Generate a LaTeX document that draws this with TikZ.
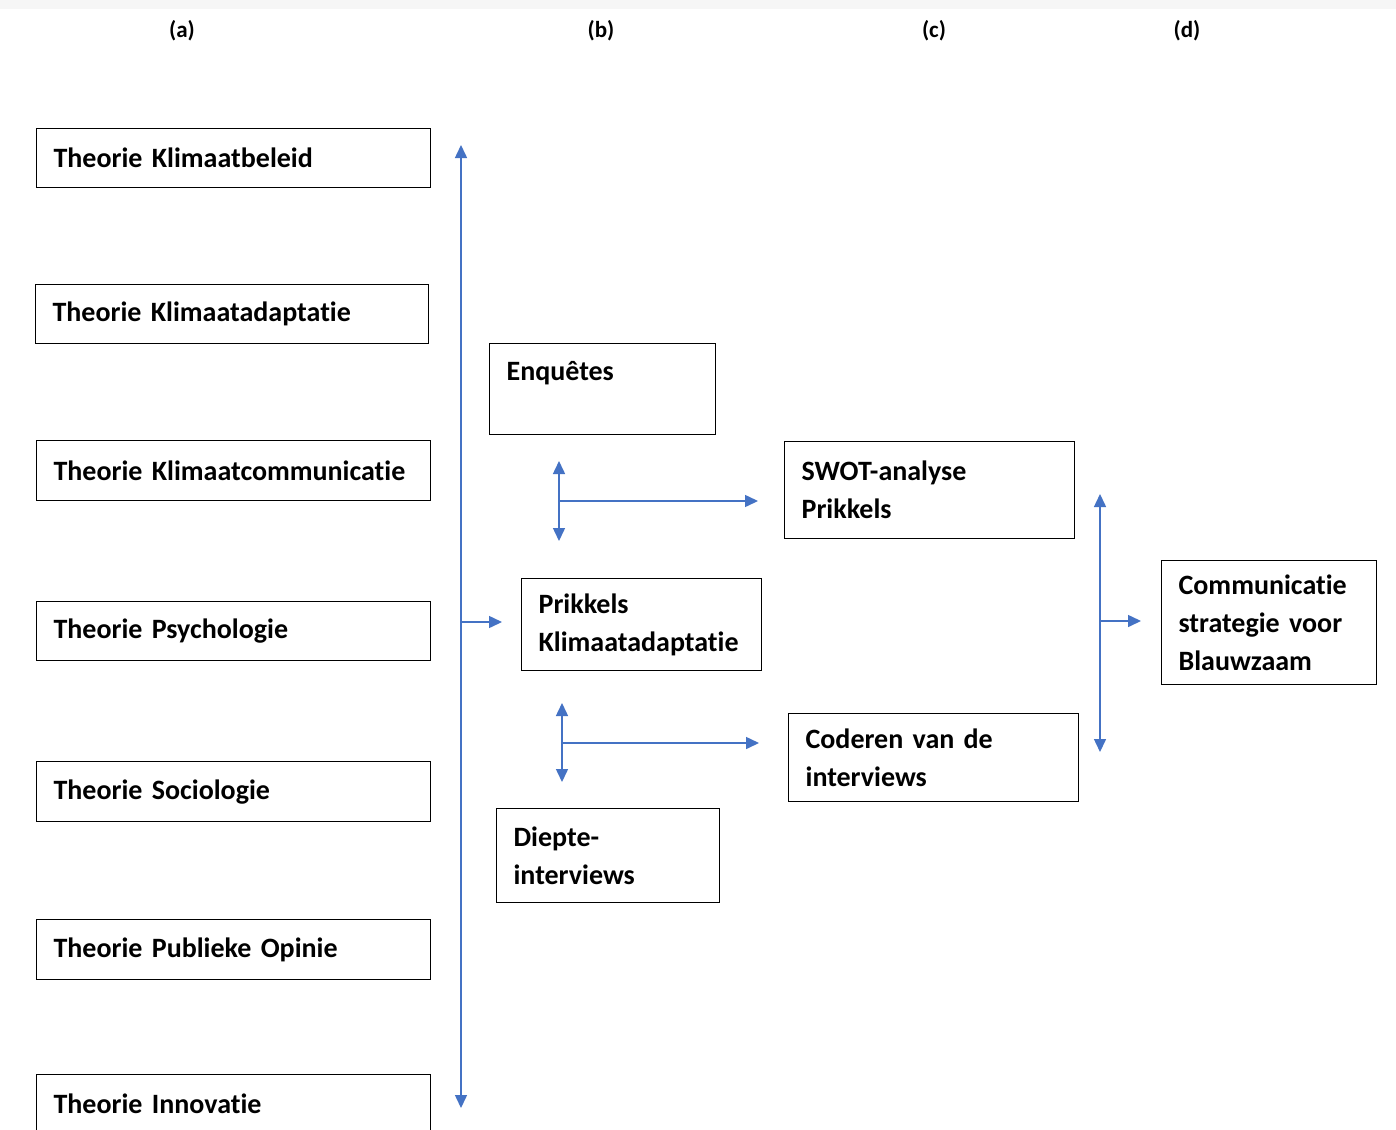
\documentclass[tikz,border=0pt]{standalone}
\usepackage{fontspec}
\setmainfont{Carlito}[Ligatures=NoCommon]
\usetikzlibrary{arrows.meta}
\definecolor{linkblue}{RGB}{68,114,196}

\begin{document}
\begin{tikzpicture}[x=1pt,y=-1pt,
    box/.style={draw,line width=1.2pt,anchor=north west,align=left,inner xsep=17pt,inner ysep=0pt,
      font=\fontsize{28}{38}\selectfont\bfseries},
    head/.style={font=\fontsize{23}{27}\selectfont\bfseries},
    link/.style={draw=linkblue,line width=1.5pt},
    onehead/.style={link,-{Triangle[length=13pt,width=12pt]}},
    twohead/.style={link,{Triangle[length=13pt,width=12pt]}-{Triangle[length=13pt,width=12pt]}}]
  \useasboundingbox (0,0) rectangle (1396,1129);
  \fill[white] (0,0) rectangle (1396,1129);
  \fill[gray!7] (0,0) rectangle (1396,9);

  \node[head] (la) at (182,31) {(a)};
  \node[head] (lb) at (601,31) {(b)};
  \node[head] (lc) at (934,31) {(c)};
  \node[head] (ld) at (1187,31) {(d)};

  \node[box,text width=360pt,minimum height=59pt] (t1) at (36,128)  {Theorie Klimaatbeleid};
  \node[box,text width=359pt,minimum height=59pt] (t2) at (35,284)  {Theorie Klimaatadaptatie};
  \node[box,text width=360pt,minimum height=60pt] (t3) at (36,440)  {Theorie Klimaatcommunicatie};
  \node[box,text width=360pt,minimum height=59pt] (t4) at (36,601)  {Theorie Psychologie};
  \node[box,text width=360pt,minimum height=60pt] (t5) at (36,761)  {Theorie Sociologie};
  \node[box,text width=360pt,minimum height=60pt] (t6) at (36,919)  {Theorie Publieke Opinie};
  \node[box,text width=360pt,minimum height=59pt] (t7) at (36,1074) {Theorie Innovatie};

  \node[box,text width=192pt,minimum height=91pt] (enq)  at (489,343) {Enquêtes\\[-14pt]\strut};
  \node[box,text width=206pt,minimum height=92pt] (prik) at (521,578) {Prikkels\\Klimaatadaptatie};
  \node[box,text width=189pt,minimum height=94pt] (diep) at (496,808) {Diepte-\\interviews};

  \node[box,text width=256pt,minimum height=97pt] (swot) at (784,441) {SWOT-analyse\\Prikkels};
  \node[box,text width=256pt,minimum height=88pt] (cod)  at (788,713) {Coderen van de\\interviews};

  \node[box,text width=181pt,minimum height=124pt] (comm) at (1161,560) {Communicatie\\strategie voor\\Blauwzaam};

  \coordinate (aTop) at (461,145);
  \coordinate (aBot) at (461,1108);
  \coordinate (aMid) at (461,622);
  \draw[twohead] (aTop) -- (aBot);
  \draw[onehead,shorten >=19pt] (aMid) -- (aMid -| prik.west);

  \coordinate (bTop) at (559,461);
  \coordinate (bBot) at (559,541);
  \coordinate (bMid) at (559,501);
  \draw[twohead] (bTop) -- (bBot);
  \draw[onehead,shorten >=26pt] (bMid) -- (bMid -| swot.west);

  \coordinate (cTop) at (562,703);
  \coordinate (cBot) at (562,782);
  \coordinate (cMid) at (562,743);
  \draw[twohead] (cTop) -- (cBot);
  \draw[onehead,shorten >=29pt] (cMid) -- (cMid -| cod.west);

  \coordinate (dTop) at (1100,494);
  \coordinate (dBot) at (1100,752);
  \coordinate (dMid) at (1100,621);
  \draw[twohead] (dTop) -- (dBot);
  \draw[onehead,shorten >=20pt] (dMid) -- (dMid -| comm.west);
\end{tikzpicture}
\end{document}
